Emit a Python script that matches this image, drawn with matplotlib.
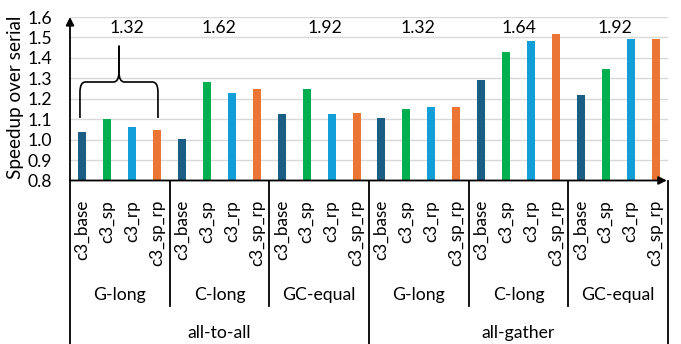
import matplotlib.pyplot as plt
from matplotlib.path import Path
from matplotlib.patches import PathPatch

plt.rcParams["font.family"] = ["Lato", "DejaVu Sans"]
FS = 12.7

# --- data -------------------------------------------------------------
variants = ["c3_base", "c3_sp", "c3_rp", "c3_sp_rp"]
workloads = ["G-long", "C-long", "GC-equal"]
patterns = ["all-to-all", "all-gather"]

# speedup over serial, one list per (pattern, workload) group, in variant order
a2a_glong = [1.036, 1.100, 1.062, 1.046]
a2a_clong = [1.002, 1.283, 1.226, 1.250]
a2a_gcequal = [1.123, 1.247, 1.123, 1.131]
ag_glong = [1.105, 1.149, 1.162, 1.162]
ag_clong = [1.293, 1.427, 1.482, 1.517]
ag_gcequal = [1.216, 1.347, 1.490, 1.494]

# numbers written above each group
group_notes = ["1.32", "1.62", "1.92", "1.32", "1.64", "1.92"]

COLORS = ["#1a5e83", "#00b050", "#129fd8", "#ea7535"]
# the text boxes above the groups are not exactly centred (in bar units)
NOTE_SHIFT = [0.28, -0.04, 0.24, -0.04, 0.0, -0.12]

groups = [a2a_glong, a2a_clong, a2a_gcequal, ag_glong, ag_clong, ag_gcequal]

# --- figure -----------------------------------------------------------
W, H = 681, 344
fig = plt.figure(figsize=(W / 100, H / 100), dpi=100)
x0_px, x1_px, ytop_px, ybot_px = 70, 668, 17, 180.5
ax = fig.add_axes([x0_px / W, (H - ybot_px) / H, (x1_px - x0_px) / W, (ybot_px - ytop_px) / H])

n = len(variants)
xs, heights, cols, ticklabels = [], [], [], []
for g, vals in enumerate(groups):
    for i, v in enumerate(vals):
        xs.append(g * n + i)
        heights.append(v)
        cols.append(COLORS[i])
        ticklabels.append(variants[i])

ax.bar(xs, [h - 0.8 for h in heights], bottom=0.8, width=0.32, color=cols, zorder=3)

ax.set_xlim(-0.5, len(xs) - 0.5)
ax.set_ylim(0.8, 1.6)
ax.set_yticks([0.8 + 0.1 * k for k in range(9)])
ax.set_yticklabels([f"{0.8 + 0.1 * k:.1f}" for k in range(9)], fontsize=FS)
ax.set_xticks(xs)
ax.set_xticklabels(ticklabels, rotation=90, fontsize=12.3, va="top")
ax.tick_params(axis="both", length=0)
ax.tick_params(axis="y", pad=13)
ax.tick_params(axis="x", pad=14)
ax.grid(axis="y", color="#d9d9d9", lw=1, zorder=0)
for s in ax.spines.values():
    s.set_visible(False)

# axis arrows
ax.annotate("", xy=(0, 1.0), xytext=(0, 0), xycoords="axes fraction",
            arrowprops=dict(arrowstyle="-|>", lw=1.3, color="black", shrinkA=0, shrinkB=0,
                            mutation_scale=12))
ax.annotate("", xy=(0.998, 0), xytext=(0, 0), xycoords="axes fraction",
            arrowprops=dict(arrowstyle="-|>", lw=1.3, color="black", shrinkA=0, shrinkB=0,
                            mutation_scale=12))

# multi-level category axis
trans = ax.get_xaxis_transform()
ax_h = ybot_px - ytop_px
inner_bottom = -(306 - ybot_px) / ax_h
outer_bottom = -(H - ybot_px) / ax_h
n_per_pat = len(workloads) * n
for g in range(len(groups) + 1):
    xb = g * n - 0.5
    outer = (g * n) % n_per_pat == 0
    ax.plot([xb, xb], [0, outer_bottom if outer else inner_bottom], color="black",
            lw=1.3, transform=trans, clip_on=False)

for g in range(len(groups)):
    ax.text(g * n + (n - 1) / 2, -(295 - ybot_px) / ax_h, workloads[g % len(workloads)],
            transform=trans, ha="center", va="center", fontsize=FS)
    ax.text(g * n + (n - 1) / 2 + NOTE_SHIFT[g], 1.546, group_notes[g],
            ha="center", va="center", fontsize=FS)

for p, name in enumerate(patterns):
    ax.text(p * n_per_pat + (n_per_pat - 1) / 2, -(333 - ybot_px) / ax_h, name,
            transform=trans, ha="center", va="center", fontsize=FS)

# curly brace over the first group
bx0, bx1 = -0.1, 3.03
bxc = (bx0 + bx1) / 2
yb, yh, ypk = 1.106, 1.282, 1.46
rx, ry = 0.22, 0.05
for sgn, xe in ((1, bx0), (-1, bx1)):
    verts = [(xe, yb), (xe, yh - ry), (xe, yh), (xe + sgn * rx, yh),
             (bxc - sgn * rx, yh), (bxc, yh), (bxc, yh + ry), (bxc, ypk)]
    codes = [Path.MOVETO, Path.LINETO, Path.CURVE3, Path.CURVE3,
             Path.LINETO, Path.CURVE3, Path.CURVE3, Path.LINETO]
    ax.add_patch(PathPatch(Path(verts, codes), fill=False, lw=1.2, color="black", zorder=4))

fig.text(16 / W, 1 - 97 / H, "Speedup over serial", rotation=90, ha="center", va="center",
         fontsize=13.6)

fig.savefig("out.png", dpi=100)
